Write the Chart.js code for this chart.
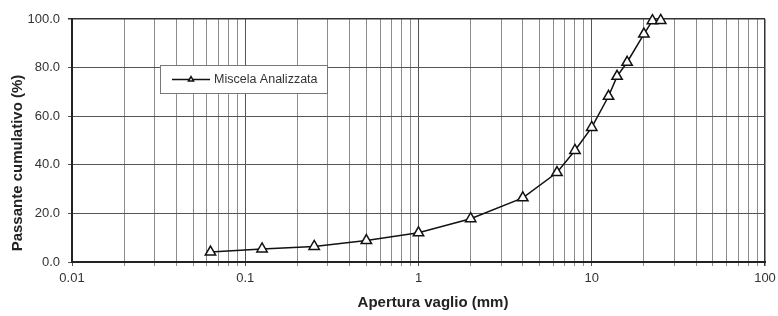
<!DOCTYPE html>
<html>
<head>
<meta charset="utf-8">
<script src="https://cdn.jsdelivr.net/npm/chart.js@4/dist/chart.umd.min.js"></script>
<style>
  html, body { margin: 0; padding: 0; background: #fff; }
  #wrap { width: 778px; height: 316px; }
</style>
</head>
<body>
<div id="wrap"><canvas id="curve" width="778" height="316"></canvas></div>
<script>
// sieve openings (mm) and cumulative passing (%)
const sieveSizes = [0.063, 0.125, 0.25, 0.5, 1, 2, 4, 6.3, 8, 10, 12.5, 14, 16, 20, 22.4, 25];
const passing = [4.1, 5.4, 6.4, 8.8, 12.0, 17.8, 26.4, 36.8, 45.9, 55.4, 68.2, 76.4, 82.2, 93.8, 99.3, 99.4];
const seriesLabel = 'Miscela Analizzata';
const xTitle = 'Apertura vaglio (mm)';
const yTitle = 'Passante cumulativo (%)';

const decadeLabels = [0.01, 0.1, 1, 10, 100];
const yTicks = [0, 20, 40, 60, 80, 100];

const textColor = '#333';
const fontFamily = "'Liberation Sans', Arial, sans-serif";

function isDecade(v) {
  const l = Math.log10(v);
  return Math.abs(l - Math.round(l)) < 1e-9;
}

// grid positions for the log axis: 1..9 in every decade
function logGridValues() {
  const vals = [];
  for (let i = 0; i < decadeLabels.length - 1; i++) {
    for (let k = 1; k <= 9; k++) vals.push(+(k * decadeLabels[i]).toPrecision(6));
  }
  vals.push(decadeLabels[decadeLabels.length - 1]);
  return vals;
}

// legend box inside the plot + axis titles (the original sits them off-centre)
const annotations = {
  id: 'annotations',
  afterDatasetsDraw(chart) {
    const ctx = chart.ctx;
    const box = { x: 160.5, y: 65.5, w: 167, h: 28 };
    ctx.save();
    ctx.fillStyle = '#fff';
    ctx.fillRect(box.x, box.y, box.w, box.h);
    ctx.strokeStyle = '#777';
    ctx.lineWidth = 1;
    ctx.strokeRect(box.x, box.y, box.w, box.h);
    const cy = box.y + box.h / 2;
    ctx.strokeStyle = '#111';
    ctx.lineWidth = 1.5;
    ctx.beginPath();
    ctx.moveTo(172, cy);
    ctx.lineTo(210, cy);
    ctx.stroke();
    Chart.helpers.drawPoint(ctx, { pointStyle: 'triangle', radius: 3, borderWidth: 1 }, 191, cy);
    ctx.fillStyle = textColor;
    ctx.font = `12.5px ${fontFamily}`;
    ctx.textBaseline = 'middle';
    ctx.fillText(seriesLabel, 214, cy + 0.5);

    ctx.fillStyle = '#222';
    ctx.font = `bold 15px ${fontFamily}`;
    ctx.textAlign = 'center';
    ctx.fillText(xTitle, 433, 303);
    ctx.translate(18, 163);
    ctx.rotate(-Math.PI / 2);
    ctx.fillText(yTitle, 0, 0);
    ctx.restore();
  }
};

new Chart(document.getElementById('curve'), {
  type: 'line',
  data: {
    datasets: [{
      label: seriesLabel,
      data: sieveSizes.map((s, i) => ({ x: s, y: passing[i] })),
      borderColor: '#111',
      borderWidth: 1.5,
      pointStyle: 'triangle',
      pointRadius: 6,
      pointBorderWidth: 1.5,
      pointBorderColor: '#111',
      pointBackgroundColor: '#fff',
      tension: 0,
      clip: false,
    }],
  },
  options: {
    responsive: false,
    animation: false,
    layout: { padding: { top: 19, right: 13, left: 0, bottom: 0 } },
    plugins: {
      legend: { display: false },
      tooltip: { enabled: false },
    },
    scales: {
      x: {
        type: 'logarithmic',
        min: 0.01,
        max: 100,
        afterBuildTicks: (scale) => { scale.ticks = logGridValues().map(v => ({ value: v })); },
        afterFit: (scale) => {
          scale.height = 54;
          scale.paddingLeft = 0;
          scale.paddingRight = 0;
        },
        border: { color: '#222', width: 2 },
        grid: {
          color: (c) => c.tick && isDecade(c.tick.value) ? (c.tick.value === 100 ? '#333' : '#555') : '#8c8c8c',
          lineWidth: (c) => c.tick && c.tick.value === 100 ? 1.5 : 1,
          tickLength: 4,
        },
        ticks: {
          autoSkip: false,
          maxRotation: 0,
          padding: 5,
          color: textColor,
          font: { family: fontFamily, size: 13 },
          callback: (v) => isDecade(v) ? String(v) : '',
        },
      },
      y: {
        min: 0,
        max: 100,
        afterBuildTicks: (scale) => { scale.ticks = yTicks.map(v => ({ value: v })); },
        afterFit: (scale) => { scale.width = 72; },
        border: { color: '#222', width: 2 },
        grid: {
          color: (c) => c.tick && c.tick.value === 100 ? '#333' : '#555',
          lineWidth: (c) => c.tick && c.tick.value === 100 ? 1.5 : 1,
          tickLength: 4,
        },
        ticks: {
          padding: 8,
          color: textColor,
          font: { family: fontFamily, size: 13 },
          callback: (v) => Number(v).toFixed(1),
        },
      },
    },
  },
  plugins: [annotations],
});
</script>
</body>
</html>
